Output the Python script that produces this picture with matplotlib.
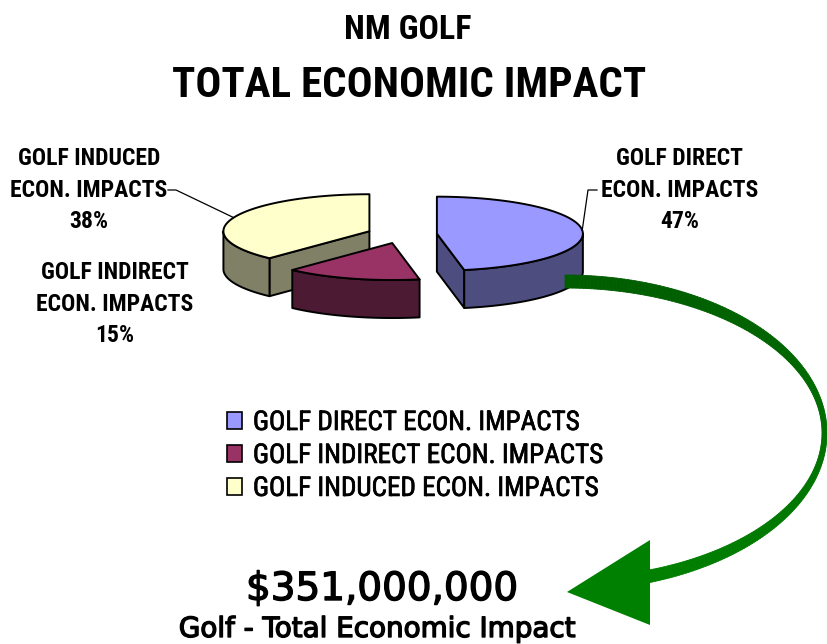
import numpy as np
import matplotlib
matplotlib.use("Agg")
import matplotlib.pyplot as plt
from matplotlib.patches import Polygon, Patch
from matplotlib.collections import PolyCollection
from matplotlib import font_manager
from matplotlib.colors import to_rgb
import matplotlib.patheffects as pe

# ---------------- data ----------------
categories = ["GOLF DIRECT ECON. IMPACTS",
              "GOLF INDIRECT ECON. IMPACTS",
              "GOLF INDUCED ECON. IMPACTS"]
slice_labels = ["GOLF DIRECT\nECON. IMPACTS",
                "GOLF INDIRECT\nECON. IMPACTS",
                "GOLF INDUCED\nECON. IMPACTS"]
values = [47, 15, 38]
title_lines = ["NM GOLF", "TOTAL ECONOMIC IMPACT"]
total_text = "$351,000,000"
subtitle = "Golf - Total Economic Impact"

top_colors = ["#9999FF", "#993366", "#FFFFCC"]
side_colors = ["#4D4D80", "#4C1A33", "#808066"]


def pick(names):
    avail = {f.name for f in font_manager.fontManager.ttflist}
    for n in names:
        if n in avail:
            return n
    return "DejaVu Sans"


narrow = pick(["Liberation Sans Narrow", "Roboto Condensed", "Liberation Sans"])

fig = plt.figure(figsize=(8.28, 6.44), dpi=100)
ax = fig.add_axes([0, 0, 1, 1])
ax.set_xlim(0, 828)
ax.set_ylim(644, 0)
ax.axis("off")

# ---------------- 3D pie ----------------
cx, cy = 402, 234.5
rx, ry, depth = 146, 37, 38
explode = 0.24
start = 90.0

fracs = np.array(values, dtype=float) / sum(values)
a_end = start - 360 * np.cumsum(fracs)
a_start = np.concatenate([[start], a_end[:-1]])
mids = (a_start + a_end) / 2

centers = []
for m in mids:
    r = np.radians(m)
    centers.append((cx + explode * rx * np.cos(r), cy - explode * ry * np.sin(r)))


def pt(c, th, z=0.0):
    r = np.radians(th)
    return (c[0] + rx * np.cos(r), c[1] - ry * np.sin(r) + z)


def arc(c, t0, t1, z=0.0, n=80):
    ts = np.linspace(t0, t1, n)
    return [pt(c, t, z) for t in ts]


edge_kw = dict(edgecolor="black", linewidth=1.4, joinstyle="round")
order = np.argsort([c[1] for c in centers])
for i in order:
    c = centers[i]
    a0, a1 = a_start[i], a_end[i]  # a0 > a1 (clockwise)
    # radial walls
    for ang, nrm in ((a0, a0 + 90), (a1, a1 - 90)):
        if np.sin(np.radians(nrm)) < -1e-6:
            p = pt(c, ang)
            poly = [c, p, (p[0], p[1] + depth), (c[0], c[1] + depth)]
            ax.add_patch(Polygon(poly, closed=True, facecolor=side_colors[i], **edge_kw))
    # outer curved wall on the front half
    for k in range(-3, 3):
        lo, hi = max(a1, k * 360 - 180), min(a0, k * 360)
        if hi > lo:
            top = arc(c, hi, lo)
            bot = arc(c, lo, hi, depth)
            ax.add_patch(Polygon(top + bot, closed=True, facecolor=side_colors[i], **edge_kw))
    # top face
    poly = [c] + arc(c, a0, a1)
    ax.add_patch(Polygon(poly, closed=True, facecolor=top_colors[i], **edge_kw))

# ---------------- slice labels ----------------
label_pos = [(680, 190), (115, 304), (89, 190)]
elbows = [[(588, 190), (597, 190)], None, [(176, 190), (168, 190)]]
for i, (lab, v) in enumerate(zip(slice_labels, values)):
    ax.text(label_pos[i][0], label_pos[i][1], f"{lab}\n{v}%", ha="center", va="center",
            family=narrow, fontsize=17, fontweight="bold", linespacing=1.47,
            multialignment="center")
    if elbows[i] is not None:
        p = pt(centers[i], mids[i])
        xs = [p[0]] + [e[0] for e in elbows[i]]
        ys = [p[1]] + [e[1] for e in elbows[i]]
        ax.plot(xs, ys, color="black", lw=0.9)

# ---------------- legend ----------------
handles = [Patch(facecolor=top_colors[i], edgecolor="black", linewidth=1.2)
           for i in range(len(categories))]
leg = ax.legend(handles, categories, loc="upper left", bbox_to_anchor=(227, 409),
                bbox_transform=ax.transData, frameon=False,
                prop=dict(family=narrow, size=19.5),
                handlelength=0.56, handleheight=0.56, handletextpad=0.4,
                labelspacing=0.22, borderpad=0, borderaxespad=0)
for t in leg.get_texts():
    t.set_path_effects([pe.withStroke(linewidth=0.5, foreground="black")])

# ---------------- titles ----------------
ax.text(408, 39, title_lines[0], ha="center", va="baseline", family=narrow,
        fontsize=24.5, fontweight="bold")
ax.text(409, 97, title_lines[1], ha="center", va="baseline", family=narrow,
        fontsize=31, fontweight="bold")
thick = [pe.withStroke(linewidth=1.0, foreground="black")]
ax.text(382, 600, total_text, ha="center", va="baseline", family="DejaVu Sans",
        fontsize=28, path_effects=thick)
ax.text(377, 637, subtitle, ha="center", va="baseline", family="DejaVu Sans",
        fontsize=20, path_effects=thick)

# ---------------- curved green arrow ----------------
ex, ey = 565, 433
ao, bo, ai, bi = 262, 158, 257, 145
t_end = -np.degrees(np.arccos((650 - ex) / ao))
ts = np.radians(np.linspace(90, t_end - 2, 200))
outer = np.column_stack([ex + ao * np.cos(ts), ey - bo * np.sin(ts)])
inner = np.column_stack([ex + ai * np.cos(ts), ey - bi * np.sin(ts)])
c_top, c_bot = np.array(to_rgb("#005E00")), np.array(to_rgb("#008000"))
quads, cols = [], []
for j in range(len(ts) - 1):
    quads.append([outer[j], outer[j + 1], inner[j + 1], inner[j]])
    f = (outer[j, 1] - 275) / (590 - 275)
    cols.append(tuple(c_top * (1 - f) + c_bot * f))
ax.add_collection(PolyCollection(quads, facecolors=cols, edgecolors=cols, linewidths=0.6, zorder=5))
ax.add_patch(Polygon([(567, 592), (650, 540), (650, 625)], closed=True,
                     facecolor="#008000", edgecolor="none", zorder=6))

fig.savefig("out.png", dpi=100)
